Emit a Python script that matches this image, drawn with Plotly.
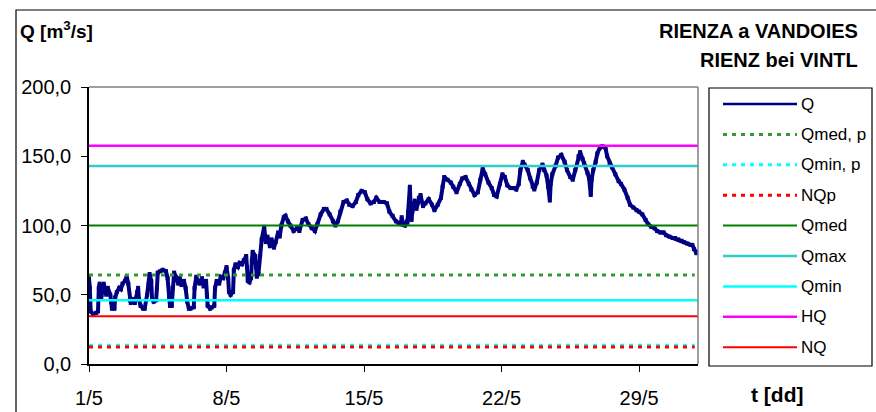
import pandas as pd
import plotly.graph_objects as go

# ---------------- data ----------------
# hours since 1 May 00:00 and discharge Q [m3/s]
q_hours = [0, 1, 2, 5, 9, 11, 12, 13, 15, 16, 18, 21, 23, 26, 27, 28, 31, 32, 34, 37,
           39, 41, 44, 46, 48, 50, 51, 54, 56, 59, 60, 61, 63, 66, 68, 71, 73, 74, 76, 77,
           79, 82, 83, 84, 87, 90, 94, 96, 98, 99, 101, 102, 104, 106, 109, 111, 113, 116, 118, 120,
           122, 124, 128, 129, 131, 133, 135, 138, 140, 143, 144, 145, 148, 150, 153, 154, 156, 159, 161, 164,
           166, 168, 170, 171, 173, 176, 177, 179, 182, 184, 187, 189, 192, 193, 194, 196, 198, 199, 200, 203,
           204, 205, 207, 209, 211, 214, 216, 218, 221, 223, 226, 228, 231, 233, 235, 238, 240, 243, 246, 250,
           254, 257, 261, 265, 268, 272, 276, 279, 283, 287, 290, 294, 298, 301, 304, 307, 311, 315, 318, 322,
           326, 329, 333, 337, 340, 344, 348, 351, 355, 360, 364, 367, 371, 375, 378, 381, 382, 383, 386, 388,
           389, 390, 392, 393, 394, 395, 398, 400, 403, 405, 408, 411, 415, 419, 422, 426, 430, 432, 434, 438,
           442, 445, 449, 453, 456, 460, 464, 467, 471, 475, 478, 481, 484, 488, 492, 495, 498, 502, 505, 508,
           511, 515, 519, 522, 525, 527, 530, 532, 536, 539, 542, 544, 547, 550, 554, 556, 559, 561, 563, 564,
           566, 570, 573, 577, 581, 584, 588, 591, 594, 598, 600, 603, 605, 609, 611, 613, 614, 616, 619, 621,
           624, 626, 628, 631, 633, 636, 639, 643, 647, 650, 654, 658, 661, 665, 669, 672, 676, 680, 683, 687,
           691, 694, 698, 702, 705, 709, 713, 716, 720, 724, 727, 731, 735, 737, 739, 742, 743]
q_values = [62, 55, 38, 36, 37, 38, 55, 58, 48, 52, 58, 50, 55, 50, 45, 40, 40, 48, 52, 55,
            54, 58, 60, 63, 58, 46, 44, 47, 44, 52, 55, 47, 42, 40, 40, 50, 58, 65, 60, 47,
            45, 46, 55, 66, 67, 68, 67, 62, 48, 42, 42, 55, 66, 63, 58, 62, 57, 60, 55, 45,
            40, 40, 41, 55, 63, 60, 58, 62, 56, 60, 50, 42, 40, 41, 42, 55, 60, 58, 63, 62,
            66, 70, 62, 52, 50, 52, 68, 72, 70, 73, 72, 75, 78, 70, 60, 59, 62, 75, 81, 78,
            70, 63, 65, 78, 90, 99, 88, 92, 85, 90, 84, 88, 95, 92, 100, 106, 107, 103, 100, 96,
            98, 96, 104, 105, 101, 98, 96, 101, 108, 112, 112, 108, 103, 100, 103, 110, 117, 118, 115, 114,
            117, 122, 125, 124, 119, 116, 117, 120, 117, 117, 116, 110, 107, 103, 102, 101, 106, 101, 100, 103,
            102, 110, 128, 112, 104, 110, 118, 112, 120, 122, 114, 116, 119, 115, 111, 115, 120, 128, 135, 133,
            131, 128, 124, 130, 134, 135, 130, 126, 122, 124, 133, 141, 137, 131, 127, 122, 121, 130, 137, 135,
            129, 127, 127, 126, 130, 140, 146, 144, 140, 134, 128, 126, 131, 140, 144, 140, 136, 128, 118, 130,
            137, 143, 149, 151, 146, 140, 135, 133, 140, 150, 153, 148, 145, 138, 134, 122, 133, 140, 146, 152,
            156, 157, 157, 156, 150, 145, 142, 137, 132, 130, 126, 120, 115, 113, 111, 110, 108, 104, 101, 99,
            98, 96, 95, 95, 93, 92, 91, 91, 90, 89, 88, 87, 86, 86, 83, 80, 81]

# reference levels [m3/s]
ref_names = ["Qmed, p", "Qmin, p", "NQp", "Qmed", "Qmax", "Qmin", "HQ", "NQ"]
ref_values = [64.3, 13.5, 12.3, 100.0, 143.0, 46.0, 157.5, 34.4]

y_tickvals = [0, 50, 100, 150, 200]
y_ticktext = ["0,0", "50,0", "100,0", "150,0", "200,0"]
x_tickdays = [1, 8, 15, 22, 29]
x_ticktext = ["1/5", "8/5", "15/5", "22/5", "29/5"]

# ---------------- styles ----------------
ref_styles = {
    "Qmed, p": dict(color="#339933", width=3, dash="4px,5px"),
    "Qmin, p": dict(color="#00FFFF", width=3, dash="4px,5px"),
    "NQp":     dict(color="#FF0000", width=3, dash="4px,5px"),
    "Qmed":    dict(color="#008000", width=2),
    "Qmax":    dict(color="#33CCCC", width=2.5),
    "Qmin":    dict(color="#00FFFF", width=2.5),
    "HQ":      dict(color="#FF00FF", width=2.5),
    "NQ":      dict(color="#FF0000", width=2),
}
Q_COLOR = "#000080"
FONT = "Liberation Sans, Arial, sans-serif"

base = pd.Timestamp("2000-05-01")
x_q = base + pd.to_timedelta(q_hours, unit="h")
x_start = base
x_end = base + pd.Timedelta(days=31)

fig = go.Figure()
fig.add_trace(go.Scatter(x=x_q, y=q_values, mode="lines+markers", name="Q",
                         line=dict(color=Q_COLOR, width=4),
                         marker=dict(color=Q_COLOR, size=4, symbol="square"),
                         showlegend=False))
for name, val in zip(ref_names, ref_values):
    st = ref_styles[name]
    x_line_end = x_end - pd.Timedelta(hours=4) if "dash" in st else x_end
    fig.add_trace(go.Scatter(x=[x_start, x_line_end], y=[val, val], mode="lines",
                             name=name, line=st, showlegend=False))

# ---------------- layout ----------------
W, H = 876, 412
L, R, T, B = 89, 698, 87, 364

def px(xp):
    return (xp - L) / (R - L)

def py(yp):
    return (B - yp) / (B - T)

fig.update_layout(
    width=W, height=H,
    margin=dict(l=L, r=W - R, t=T, b=H - B, autoexpand=False),
    paper_bgcolor="white", plot_bgcolor="white",
    font=dict(family=FONT, size=20, color="black"),
    showlegend=False,
)
fig.update_xaxes(
    type="date", range=[x_start, x_end], automargin=False,
    tickvals=[base + pd.Timedelta(days=d - 1) for d in x_tickdays],
    ticktext=x_ticktext,
    ticks="outside", ticklen=6, tickcolor="black", tickwidth=1,
    showline=True, linecolor="black", linewidth=1.5,
    showgrid=False, zeroline=False,
    tickfont=dict(size=20), ticklabelstandoff=9,
)
fig.update_yaxes(
    range=[0, 200], tickvals=y_tickvals, ticktext=y_ticktext, automargin=False,
    ticks="outside", ticklen=6, tickcolor="black", tickwidth=1,
    showline=True, linecolor="black", linewidth=1.5,
    showgrid=False, zeroline=False,
    tickfont=dict(size=20), ticklabelstandoff=6,
)

shapes = []
# plot area frame (top / right in grey)
shapes.append(dict(type="line", xref="paper", yref="paper", x0=0, x1=1, y0=1, y1=1,
                   line=dict(color="#808080", width=1.5)))
shapes.append(dict(type="line", xref="paper", yref="paper", x0=1, x1=1, y0=0, y1=1,
                   line=dict(color="#808080", width=1.5)))
# outer chart border
shapes.append(dict(type="rect", xref="paper", yref="paper",
                   x0=px(16), x1=px(W + 20), y0=py(H + 30), y1=py(10),
                   line=dict(color="black", width=1.2), layer="below"))
# legend box
shapes.append(dict(type="rect", xref="paper", yref="paper",
                   x0=px(709), x1=px(872), y0=py(366), y1=py(88),
                   line=dict(color="black", width=1.2), fillcolor="white"))

annotations = []
legend_items = ["Q"] + ref_names
for i, name in enumerate(legend_items):
    yy = 104 + 30.4 * i
    st = dict(color=Q_COLOR, width=2.5) if name == "Q" else ref_styles[name]
    shapes.append(dict(type="line", xref="paper", yref="paper",
                       x0=px(723), x1=px(797), y0=py(yy), y1=py(yy), line=st))
    annotations.append(dict(xref="paper", yref="paper", x=px(799), y=py(yy),
                            text=name, showarrow=False, xanchor="left", yanchor="middle",
                            font=dict(size=17, family=FONT)))

annotations += [
    dict(xref="paper", yref="paper", x=px(18), y=py(30), text="<b>Q [m<sup>3</sup>/s]</b>",
         showarrow=False, xanchor="left", yanchor="middle", font=dict(size=19, family=FONT)),
    dict(xref="paper", yref="paper", x=px(860), y=py(31), text="<b>RIENZA a VANDOIES</b>",
         showarrow=False, xanchor="right", yanchor="middle", font=dict(size=20, family=FONT)),
    dict(xref="paper", yref="paper", x=px(860), y=py(60), text="<b>RIENZ bei VINTL</b>",
         showarrow=False, xanchor="right", yanchor="middle", font=dict(size=20, family=FONT)),
    dict(xref="paper", yref="paper", x=px(777), y=py(394), text="<b>t [dd]</b>",
         showarrow=False, xanchor="center", yanchor="middle", font=dict(size=21, family=FONT)),
]

fig.update_layout(shapes=shapes, annotations=annotations)
fig.write_html("out.html", config={"displayModeBar": False},
               post_script="document.body.style.margin='0px';document.body.style.overflow='hidden';")
